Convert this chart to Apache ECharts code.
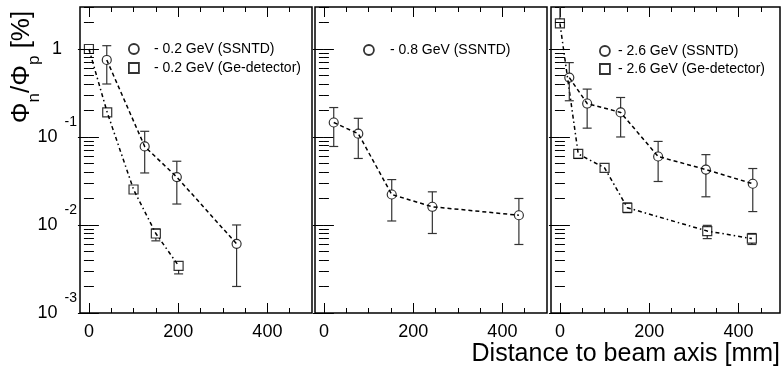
<!DOCTYPE html>
<html><head><meta charset="utf-8">
<script src="https://cdn.jsdelivr.net/npm/echarts@6/dist/echarts.min.js"></script>
<style>html,body{margin:0;padding:0;background:#fff}#c{width:782px;height:371px}</style>
</head><body><div id="c"></div>
<script>
const FONT = '"Liberation Sans", Arial, Helvetica, sans-serif';

// ---------- data ----------
const xTickLabels = [0, 200, 400];
const xMinorTicks = [50, 100, 150, 250, 300, 350, 450];
const yMajorTicks = [0.001, 0.01, 0.1, 1];
const yMinorTicks = [0.002,0.003,0.004,0.005,0.006,0.007,0.008,0.009,
                     0.02,0.03,0.04,0.05,0.06,0.07,0.08,0.09,
                     0.2,0.3,0.4,0.5,0.6,0.7,0.8,0.9,2,3];

// panel 1: 0.2 GeV
const p1CircX  = [40, 125, 197, 331];
const p1CircY  = [0.75, 0.078, 0.035, 0.0061];
const p1CircLo = [0.40, 0.039, 0.0173, 0.0020];
const p1CircHi = [1.09, 0.116, 0.053, 0.010];
const p1SqX    = [0, 41, 100, 150, 201];
const p1SqY    = [1.0, 0.19, 0.0253, 0.0080, 0.00343];
const p1SqLo   = [0.92, 0.175, 0.0228, 0.0066, 0.00278];
const p1SqHi   = [1.08, 0.205, 0.0280, 0.0090, 0.0038];
// panel 2: 0.8 GeV
const p2CircX  = [22, 77, 152, 243, 437];
const p2CircY  = [0.146, 0.109, 0.0222, 0.0161, 0.0129];
const p2CircLo = [0.078, 0.057, 0.0111, 0.0080, 0.0060];
const p2CircHi = [0.216, 0.163, 0.0328, 0.0238, 0.020];
// panel 3: 2.6 GeV
const p3CircX  = [21, 61, 136, 220, 327, 432];
const p3CircY  = [0.473, 0.24, 0.19, 0.060, 0.0426, 0.0294];
const p3CircLo = [0.258, 0.126, 0.100, 0.0312, 0.0209, 0.0142];
const p3CircHi = [0.70, 0.35, 0.281, 0.089, 0.063, 0.0438];
const p3SqX    = [0, 41, 100, 151, 330, 430];
const p3SqY    = [1.95, 0.0642, 0.0446, 0.0157, 0.00853, 0.0070];
const p3SqLo   = [1.75, 0.057, 0.040, 0.0138, 0.0070, 0.0060];
const p3SqHi   = [4.0, 0.072, 0.050, 0.0178, 0.0099, 0.0080];

const seriesSets = [
  [ {name:'- 0.2 GeV (SSNTD)', kind:'circle', x:p1CircX, y:p1CircY, lo:p1CircLo, hi:p1CircHi},
    {name:'- 0.2 GeV (Ge-detector)', kind:'square', x:p1SqX, y:p1SqY, lo:p1SqLo, hi:p1SqHi} ],
  [ {name:'- 0.8 GeV (SSNTD)', kind:'circle', x:p2CircX, y:p2CircY, lo:p2CircLo, hi:p2CircHi} ],
  [ {name:'- 2.6 GeV (SSNTD)', kind:'circle', x:p3CircX, y:p3CircY, lo:p3CircLo, hi:p3CircHi},
    {name:'- 2.6 GeV (Ge-detector)', kind:'square', x:p3SqX, y:p3SqY, lo:p3SqLo, hi:p3SqHi} ]
];

// ---------- layout ----------
const SQUARE = 'path://M0 0L10 0L10 10L0 10Z';
const symbolOf = k => k === 'circle' ? 'circle' : SQUARE;
const panels = [
  {left:80,  width:232, xMax:500, lg:{left:128, top:42, w:30, gap:5}},
  {left:315, width:232, xMax:500, lg:{left:363, top:43, w:32, gap:5}},
  {left:551, width:229, xMax:493, lg:{left:599, top:44, w:16, gap:4}}
];

const tickLine = {color:'#000', width:1};
function xAx(g, p, position, values, len, labels) {
  return {type:'value', gridIndex:g, min:-20, max:p.xMax, position,
    axisLine:{show:false}, splitLine:{show:false},
    axisTick:{show:true, inside:true, length:len, customValues:values, lineStyle:tickLine},
    axisLabel: labels ? {show:true, customValues:xTickLabels, fontSize:18, color:'#000', fontFamily:FONT, margin:10}
                      : {show:false}};
}
function yAx(g, position, values, len, labels) {
  return {type:'log', logBase:10, gridIndex:g, min:0.000999, max:3, position,
    axisLine:{show:false}, splitLine:{show:false},
    axisTick:{show:true, inside:true, length:len, customValues:values, lineStyle:tickLine},
    axisLabel: labels ? {show:true, customValues:yMajorTicks, margin:3, color:'#000', fontFamily:FONT,
        formatter: v => { const e = Math.round(Math.log10(v)); return e === 0 ? '{one|1}' : '{b|10}{s|' + e + '}'; },
        rich:{ one:{fontSize:18, fontFamily:FONT, color:'#000', padding:[0,15,0,0]},
               b:{fontSize:18, fontFamily:FONT, color:'#000', lineHeight:44},
               s:{fontSize:14, fontFamily:FONT, color:'#000', lineHeight:14, verticalAlign:'top', padding:[0,0,0,7]} } }
      : {show:false}};
}

const grid = [], xAxis = [], yAxis = [], legend = [], series = [];
panels.forEach((p, g) => {
  grid.push({left:p.left, top:7, width:p.width, height:306, show:true, borderColor:'#000', borderWidth:1.5, backgroundColor:'transparent'});
  xAxis.push(xAx(g, p, 'bottom', xTickLabels, 10, true), xAx(g, p, 'bottom', xMinorTicks, 5, false),
             xAx(g, p, 'top', xTickLabels, 10, false), xAx(g, p, 'top', xMinorTicks, 5, false));
  yAxis.push(yAx(g, 'left', yMajorTicks, 10, g === 0), yAx(g, 'left', yMinorTicks, 5, false),
             yAx(g, 'right', yMajorTicks, 11, false), yAx(g, 'right', yMinorTicks, 5, false));
  const sets = seriesSets[g];
  legend.push({data: sets.map(s => ({name:s.name, icon: symbolOf(s.kind)})), orient:'vertical',
    left:p.lg.left, top:p.lg.top, itemWidth:p.lg.w, itemHeight:10, itemGap:p.lg.gap, padding:0,
    symbolKeepAspect:true,
    selectedMode:false, textStyle:{fontSize:14, color:'#000', fontFamily:FONT, lineHeight:14},
    itemStyle:{borderWidth:1.8}});
  sets.forEach(s => {
    const pts = s.x.map((x, i) => [x, s.y[i]]);
    series.push({type:'line', xAxisIndex:4*g, yAxisIndex:4*g, data:pts, symbol:'none', silent:true,
      lineStyle:{color:'#000', width:1.5, type: s.kind === 'circle' ? [4,3] : [4,3,1.5,3]}, z:2});
    const r = 4.5;
    series.push({type:'custom', xAxisIndex:4*g, yAxisIndex:4*g, silent:true, z:3,
      data: s.x.map((x, i) => [x, s.y[i], s.lo[i], s.hi[i]]),
      encode:{x:0, y:1},
      renderItem: (params, api) => {
        const x = api.value(0), y = api.value(1), lo = api.value(2), hi = api.value(3);
        const c = api.coord([x, y]), t = api.coord([x, hi]), b = api.coord([x, lo]);
        const cs = params.coordSys;
        const top = Math.max(t[1], cs.y), bot = Math.min(b[1], cs.y + cs.height);
        const st = {stroke:'#333', lineWidth:1.2};
        const ch = [], cap = 4.5;
        if (top < c[1] - r) {
          ch.push({type:'line', shape:{x1:c[0], y1:top, x2:c[0], y2:c[1]-r}, style:st});
          if (t[1] >= cs.y) ch.push({type:'line', shape:{x1:c[0]-cap, y1:top, x2:c[0]+cap, y2:top}, style:st});
        }
        if (bot > c[1] + r) {
          ch.push({type:'line', shape:{x1:c[0], y1:c[1]+r, x2:c[0], y2:bot}, style:st});
          ch.push({type:'line', shape:{x1:c[0]-cap, y1:bot, x2:c[0]+cap, y2:bot}, style:st});
        }
        return {type:'group', children:ch};
      }});
    series.push({type:'scatter', name:s.name, xAxisIndex:4*g, yAxisIndex:4*g, data:pts, z:4,
      symbol:symbolOf(s.kind), symbolSize:9,
      itemStyle:{color:'rgba(0,0,0,0)', borderColor:'#000', borderWidth:1.2}});
  });
});

const chart = echarts.init(document.getElementById('c'), null, {renderer:'canvas'});
chart.setOption({
  animation:false, backgroundColor:'#fff',
  grid, xAxis, yAxis, legend, series,
  graphic:[
    {type:'text', x:22, y:67, rotation:Math.PI/2, z:10,
     style:{text:'{a|Φ}{s|n}{a|/Φ}{s|p}{a| [%]}', align:'center', verticalAlign:'middle',
       rich:{a:{fontSize:26, fontFamily:FONT, fill:'#000', lineHeight:42},
             s:{fontSize:17, fontFamily:FONT, fill:'#000', lineHeight:25, verticalAlign:'bottom'}}}},
    {type:'text', right:2, top:342, z:10,
     style:{text:'Distance to beam axis [mm]', fontSize:25, fontFamily:FONT, fill:'#000'}}
  ]
});
</script></body></html>
